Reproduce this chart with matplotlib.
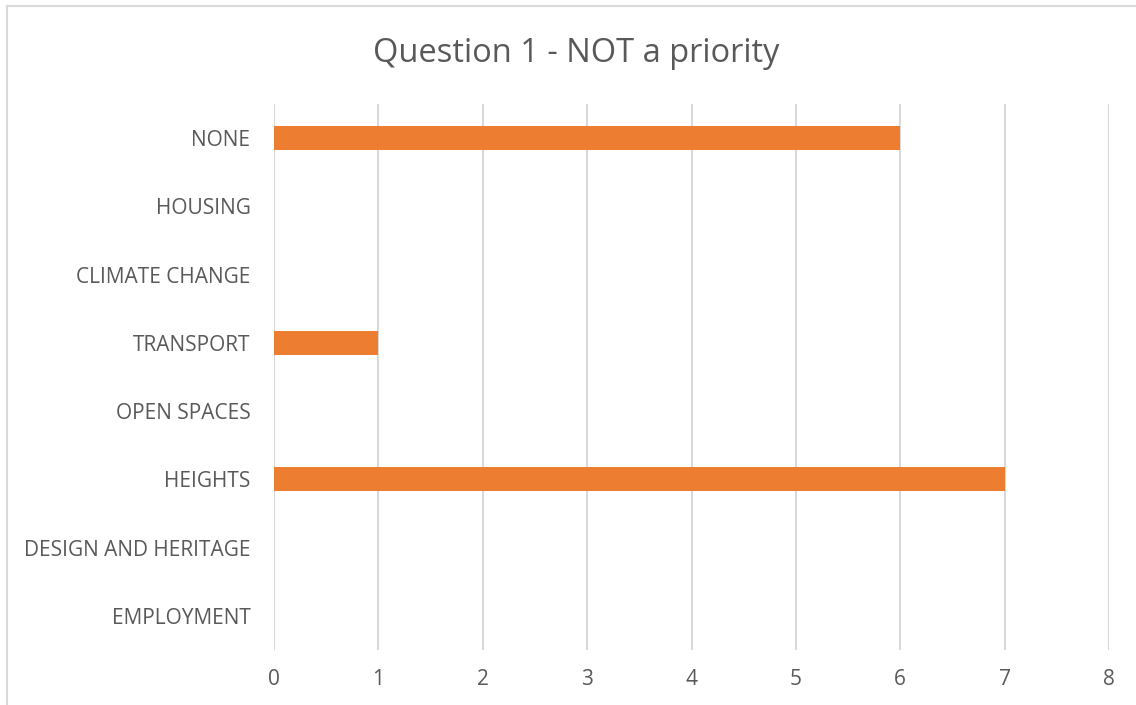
import matplotlib.pyplot as plt
from matplotlib.lines import Line2D

categories = ['EMPLOYMENT', 'DESIGN AND HERITAGE', 'HEIGHTS', 'OPEN SPACES',
              'TRANSPORT', 'CLIMATE CHANGE', 'HOUSING', 'NONE']
counts = [0, 0, 7, 0, 1, 0, 0, 6]
xticks = [0, 1, 2, 3, 4, 5, 6, 7, 8]

plt.rcParams['font.family'] = ['Open Sans', 'DejaVu Sans']
txt = '#595959'
grid = '#D9D9D9'

fig = plt.figure(figsize=(11.36, 7.05), dpi=100)
ax = fig.add_axes([274/1136, 55/705, 835/1136, 546/705])

ypos = range(len(categories))
ax.barh(ypos, counts, height=0.35, color='#ED7D31', zorder=3)

ax.set_xlim(0, 8)
ax.set_ylim(-0.5, len(categories) - 0.5)
ax.set_xticks(xticks)
ax.set_xticklabels([str(v) for v in xticks])
ax.set_yticks(list(ypos))
ax.set_yticklabels(categories)
ax.tick_params(axis='both', length=0, labelsize=15, colors=txt)
ax.tick_params(axis='x', pad=14)
ax.tick_params(axis='y', pad=17)
ax.xaxis.grid(True, color=grid, linewidth=1.5, zorder=0)
for s in ax.spines.values():
    s.set_visible(False)

fig.text(576/1136, 1 - 53/705, 'Question 1 - NOT a priority', ha='center',
         va='center', fontsize=23.5, color=txt)

# chart frame: only top and left edges show
fig.add_artist(Line2D([7/1136, 1], [1 - 6/705, 1 - 6/705], color=grid,
                      linewidth=1.5, transform=fig.transFigure))
fig.add_artist(Line2D([7/1136, 7/1136], [0, 1 - 6/705], color=grid,
                      linewidth=1.5, transform=fig.transFigure))

fig.savefig('out.png', dpi=100)
